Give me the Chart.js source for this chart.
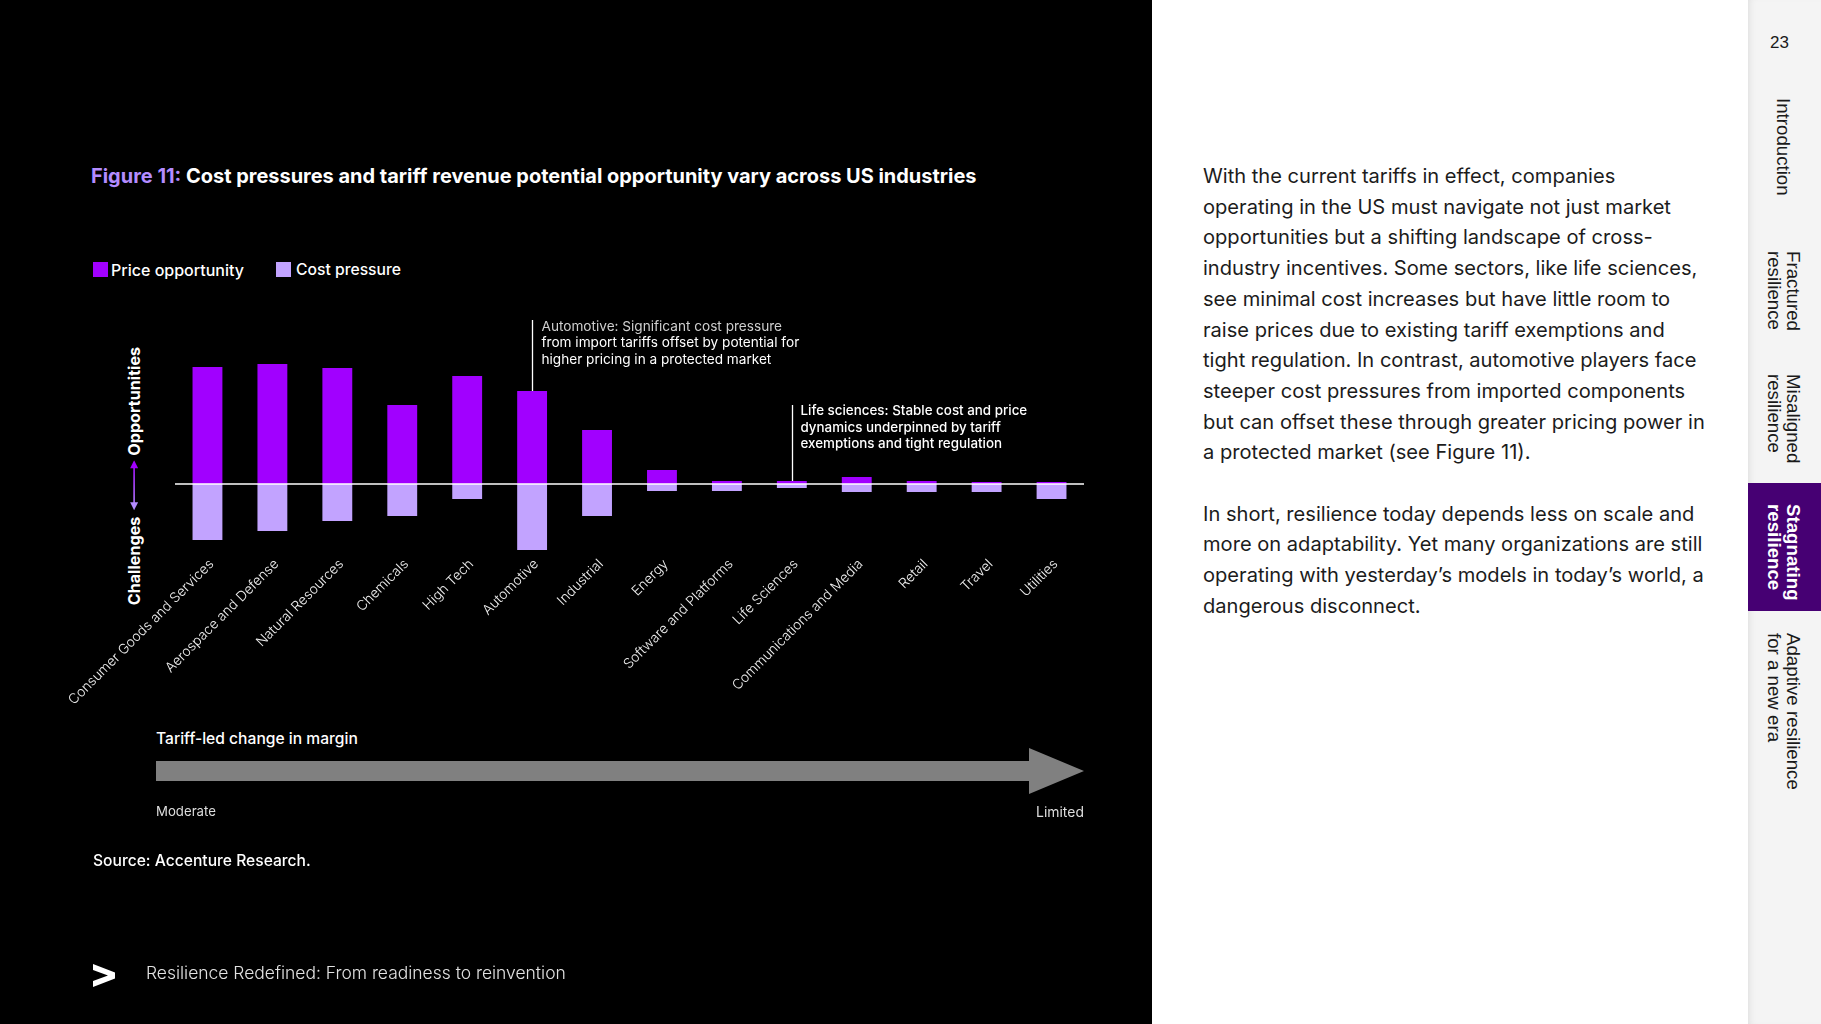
<!DOCTYPE html>
<html>
<head>
<meta charset="utf-8">
<script src="https://cdn.jsdelivr.net/npm/chart.js@4.4.1/dist/chart.umd.min.js"></script>
<style>
  html, body { margin: 0; padding: 0; }
  body { width: 1821px; height: 1024px; position: relative; overflow: hidden; background: #fff; font-family: Inter, "Open Sans", sans-serif; }
  #left { position: absolute; left: 0; top: 0; width: 1152px; height: 1024px; background: #000; }
  .t { position: absolute; white-space: nowrap; line-height: 1; }
  #chartBox { position: absolute; left: 40px; top: 300px; width: 1080px; height: 420px; }
  #side { position: absolute; left: 1748px; top: 0; width: 73px; height: 1024px; background: #f4f4f4; box-shadow: inset 6px 0 8px -6px rgba(0,0,0,0.12); }
  .nav { position: absolute; writing-mode: vertical-rl; font-family: "Liberation Sans", Arial, sans-serif; font-size: 18.7px; line-height: 19px; color: #1a1a1a; white-space: nowrap; }
  #para { position: absolute; left: 1203px; top: 161px; color: #1c1c1c; line-height: 30.7px; white-space: nowrap; }
  #para div { white-space: nowrap; }
</style>
</head>
<body>
<div id="left"></div>

<div class="t" id="title" data-x="91" data-cy="177" data-w="886" style="font-weight:700;color:#fff;"><span style="color:#b48cff;">Figure 11:</span> Cost pressures and tariff revenue potential opportunity vary across US industries</div>

<div id="sq1" style="position:absolute;left:93px;top:262px;width:15px;height:15px;background:#a100ff;"></div>
<div class="t" id="lg1" data-x="111" data-cy="270" data-w="133" style="font-weight:500;color:#fff;"></div>
<div id="sq2" style="position:absolute;left:276px;top:262px;width:15px;height:15px;background:#c2a3ff;"></div>
<div class="t" id="lg2" data-x="296" data-cy="270" data-w="105" style="font-weight:500;color:#fff;"></div>

<div id="ylab" style="position:absolute;display:flex;align-items:center;white-space:nowrap;line-height:1;font-weight:700;color:#fff;transform:rotate(-90deg);transform-origin:center center;">
  <span id="ylC">Challenges</span>
  <svg width="50" height="12" style="margin:0 5px 0 6px;display:block;flex:none;">
    <defs><linearGradient id="ag" gradientUnits="userSpaceOnUse" x1="0" x2="50" y1="0" y2="0"><stop offset="0" stop-color="#b48cff"/><stop offset="1" stop-color="#a100ff"/></linearGradient></defs>
    <rect x="6" y="5.2" width="38" height="1.6" fill="url(#ag)"/>
    <polygon points="0,6 8,2 8,10" fill="#b48cff"/>
    <polygon points="50,6 42,2 42,10" fill="#a100ff"/>
  </svg>
  <span id="ylO">Opportunities</span>
</div>

<div id="chartBox"><canvas id="c" width="1080" height="420"></canvas></div>

<div class="t" id="tariff" data-x="156" data-cy="739" data-w="202" style="font-weight:500;color:#fff;">Tariff-led change in margin</div>
<svg style="position:absolute;left:0;top:0;" width="1152" height="1024">
  <polygon points="156,761 1029,761 1029,748 1084,771 1029,794 1029,781 156,781" fill="#808080"/>
  <path d="M93 964 L115 972.5 L115 978.5 L93 987 L93 981 L108 975.5 L93 970 Z" fill="#fff"/>
</svg>
<div class="t" id="moderate" data-x="156" data-cy="812" data-w="60" style="color:#ddd;">Moderate</div>
<div class="t" id="limited" data-x="1084" data-cy="812" data-w="48" data-align="right" style="color:#ddd;">Limited</div>
<div class="t" id="source" data-x="93" data-cy="861" data-w="218" style="font-weight:500;color:#fff;">Source: Accenture Research.</div>
<div class="t" id="footer" data-x="146" data-cy="973" data-w="420" style="font-weight:300;color:#e2e2e2;">Resilience Redefined: From readiness to reinvention</div>

<div id="para">
  <div>With the current tariffs in effect, companies</div>
  <div>operating in the US must navigate not just market</div>
  <div>opportunities but a shifting landscape of cross-</div>
  <div>industry incentives. Some sectors, like life sciences,</div>
  <div>see minimal cost increases but have little room to</div>
  <div>raise prices due to existing tariff exemptions and</div>
  <div>tight regulation. In contrast, automotive players face</div>
  <div>steeper cost pressures from imported components</div>
  <div id="fitLine">but can offset these through greater pricing power in</div>
  <div>a protected market (see Figure 11).</div>
  <div style="height:30.7px"></div>
  <div>In short, resilience today depends less on scale and</div>
  <div>more on adaptability. Yet many organizations are still</div>
  <div>operating with yesterday’s models in today’s world, a</div>
  <div>dangerous disconnect.</div>
</div>

<div id="side">
  <div class="t" style="left:22px;top:34px;font-family:'Liberation Sans',Arial,sans-serif;font-size:17px;color:#1a1a1a;">23</div>
  <div class="nav" style="left:26px;top:98px;">Introduction</div>
  <div class="nav" style="left:17px;top:251px;">Fractured<br>resilience</div>
  <div class="nav" style="left:17px;top:374px;">Misaligned<br>resilience</div>
  <div style="position:absolute;left:0;top:483px;width:73px;height:128px;background:#460073;"></div>
  <div class="nav" style="left:17px;top:504px;color:#fff;font-weight:700;">Stagnating<br>resilience</div>
  <div class="nav" style="left:17px;top:633px;">Adaptive resilience<br>for a new era</div>
</div>

<script>
// ---------- data ----------
const categories = ['Consumer Goods and Services', 'Aerospace and Defense', 'Natural Resources', 'Chemicals', 'High Tech', 'Automotive', 'Industrial', 'Energy', 'Software and Platforms', 'Life Sciences', 'Communications and Media', 'Retail', 'Travel', 'Utilities'];
const priceOpportunity = [11.7, 12.0, 11.6, 7.9, 10.8, 9.3, 5.4, 1.4, 0.3, 0.3, 0.7, 0.3, 0.2, 0.2];
const costPressure = [-5.6, -4.7, -3.7, -3.2, -1.5, -6.6, -3.2, -0.7, -0.7, -0.4, -0.8, -0.8, -0.8, -1.5];
const seriesNames = ['Price opportunity', 'Cost pressure'];
const autoNote = ['Automotive: Significant cost pressure', 'from import tariffs offset by potential for', 'higher pricing in a protected market'];
const lifeNote = ['Life sciences: Stable cost and price', 'dynamics underpinned by tariff', 'exemptions and tight regulation'];

document.getElementById('lg1').textContent = seriesNames[0];
document.getElementById('lg2').textContent = seriesNames[1];

// ---------- helpers ----------
function fitEl(el, w) {
  el.style.fontSize = '100px';
  const r = el.offsetWidth;
  const fs = 100 * w / r;
  el.style.fontSize = fs + 'px';
  return fs;
}
document.querySelectorAll('.t[data-w]').forEach(el => {
  const fs = fitEl(el, +el.dataset.w);
  const x = +el.dataset.x, cy = +el.dataset.cy;
  const w = el.offsetWidth;
  el.style.left = (el.dataset.align === 'right' ? x - w : x) + 'px';
  el.style.top = (cy - fs * 0.52) + 'px';
});

// paragraph
(function(){
  const p = document.getElementById('para');
  const ln = document.getElementById('fitLine');
  p.style.fontSize = '100px';
  const span = document.createElement('span');
  span.textContent = ln.textContent;
  span.style.whiteSpace = 'nowrap';
  ln.textContent = '';
  ln.appendChild(span);
  const w = span.offsetWidth;
  p.style.fontSize = (100 * 502 / w) + 'px';
})();

// y label
(function(){
  const g = document.getElementById('ylab');
  const o = document.getElementById('ylO');
  g.style.fontSize = '100px';
  const r = o.offsetWidth;
  g.style.fontSize = (100 * 109 / r) + 'px';
  g.style.left = (134 - g.offsetWidth / 2) + 'px';
  g.style.top = (476 - g.offsetHeight / 2) + 'px';
})();

function measureSize(text, weight, target) {
  const cx = document.createElement('canvas').getContext('2d');
  cx.font = weight + ' 100px Inter';
  return 100 * target / cx.measureText(text).width;
}
const tickSize = measureSize(categories[0], 300, 199);
const noteSize = measureSize(autoNote[1], 400, 258);
const lifeSize = measureSize(lifeNote[0], 500, 227);

const notes = [
  { category: 'Automotive', lines: autoNote, lineTop: 20, textTop: 27, dy: 16.3, dx: 9, size: noteSize, weight: 400, colors: ['#cfcfcf', '#fff', '#fff'] },
  { category: 'Life Sciences', lines: lifeNote, lineTop: 105, textTop: 111, dy: 16.5, dx: 8, size: lifeSize, weight: 500, colors: ['#fff', '#fff', '#fff'] }
];

const overlay = {
  id: 'overlay',
  afterDatasetsDraw(chart) {
    const { ctx, chartArea, scales: { x, y } } = chart;
    const y0 = y.getPixelForValue(0);
    ctx.save();
    ctx.strokeStyle = '#fff';
    ctx.lineWidth = 1.6;
    ctx.beginPath();
    ctx.moveTo(chartArea.left, y0);
    ctx.lineTo(chartArea.right, y0);
    ctx.stroke();
    notes.forEach(n => {
      const i = categories.indexOf(n.category);
      const px = Math.round(x.getPixelForValue(i)) + 0.5;
      const top = y.getPixelForValue(priceOpportunity[i]);
      ctx.strokeStyle = '#fff';
      ctx.lineWidth = 1.3;
      ctx.beginPath();
      ctx.moveTo(px, n.lineTop);
      ctx.lineTo(px, top);
      ctx.stroke();
      ctx.font = n.weight + ' ' + n.size + 'px Inter';
      ctx.textBaseline = 'middle';
      ctx.textAlign = 'left';
      n.lines.forEach((t, k) => {
        ctx.fillStyle = n.colors[k];
        ctx.fillText(t, px + n.dx, n.textTop + k * n.dy);
      });
    });
    ctx.restore();
  }
};

new Chart(document.getElementById('c'), {
  type: 'bar',
  data: {
    labels: categories,
    datasets: [
      { label: seriesNames[0], data: priceOpportunity, backgroundColor: '#a100ff', barPercentage: 0.46, categoryPercentage: 1.0 },
      { label: seriesNames[1], data: costPressure, backgroundColor: '#c2a3ff', barPercentage: 0.46, categoryPercentage: 1.0 }
    ]
  },
  options: {
    responsive: false,
    animation: false,
    layout: { padding: { left: 135, right: 36, top: 44, bottom: 0 } },
    plugins: { legend: { display: false }, tooltip: { enabled: false } },
    scales: {
      x: {
        stacked: true,
        grid: { display: false },
        border: { display: false },
        ticks: { color: '#f0f0f0', font: { family: 'Inter', size: tickSize, weight: 300 }, minRotation: 45, maxRotation: 45, autoSkip: false, padding: -6, labelOffset: 4 },
        afterFit(s) { s.height = 166; s.paddingLeft = 0; s.paddingRight = 0; }
      },
      y: { stacked: true, display: false, min: -7, max: 14 }
    }
  },
  plugins: [overlay]
});
</script>
</body>
</html>
